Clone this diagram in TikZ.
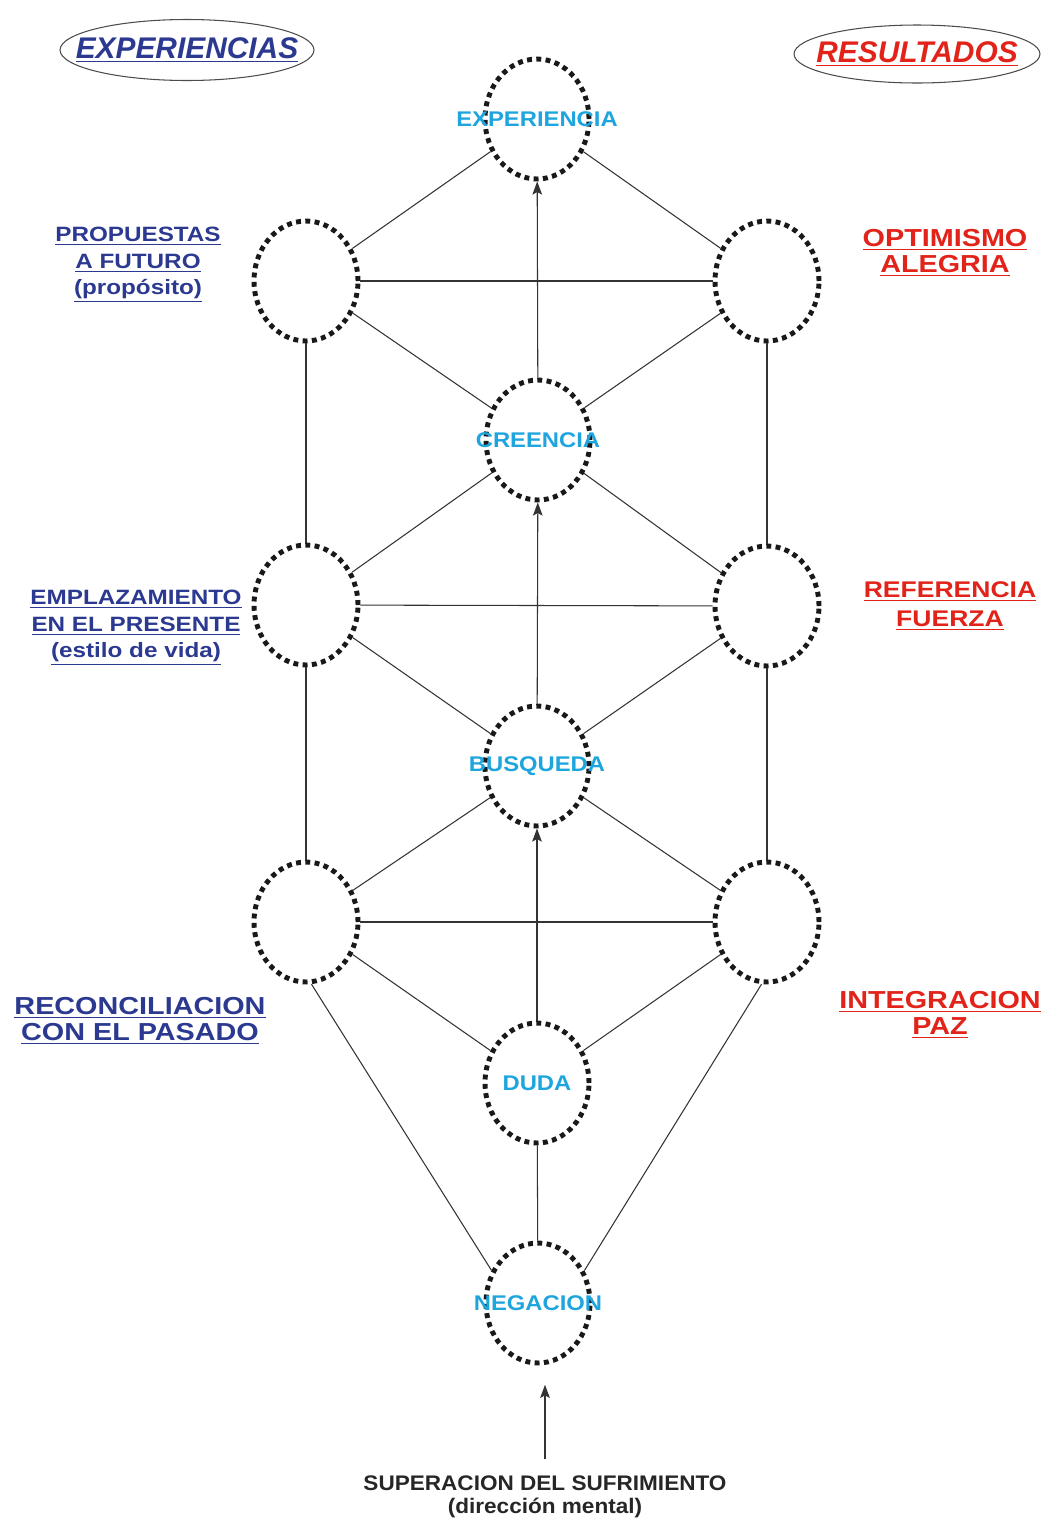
\documentclass[tikz,border=0pt]{standalone}
\usepackage{fontspec}
\setmainfont{Liberation Sans}[FakeStretch=1.07]
\newfontfamily\letraancha{Liberation Sans}[FakeStretch=1.17]
\newfontfamily\letramedia{Liberation Sans}[FakeStretch=1.12]
\newfontfamily\letranormal{Liberation Sans}
\usetikzlibrary{shapes.geometric,arrows.meta}
\definecolor{azul}{HTML}{2B3990}
\definecolor{rojo}{HTML}{E2231A}
\definecolor{celeste}{HTML}{1FA5DE}

\begin{document}
\begin{tikzpicture}[x=0.02cm, y=-0.02cm,
  circulo/.style={ellipse, draw=black!90, line width=2.8pt, dash pattern=on 2.8pt off 2.5pt,
    minimum width=2.08cm, minimum height=2.4cm, inner sep=0pt},
  nombre/.style={text=celeste, font=\letramedia\bfseries\fontsize{12.1}{14}\selectfont},
  cabecera/.style={ellipse, draw=black!70, line width=0.6pt, inner sep=0pt},
  titulo/.style={font=\letranormal\bfseries\itshape\fontsize{17}{18}\selectfont},
  chico/.style={align=center, font=\letraancha\bfseries\fontsize{11.8}{15}\selectfont},
  grande/.style={align=center, font=\letraancha\bfseries\fontsize{14}{14.7}\selectfont},
  linea/.style={draw=black!80, line width=0.6pt},
  flecha/.style={linea, -{Stealth[length=7.5pt, width=5.5pt, inset=1.5pt]}}]
\useasboundingbox (0,0) rectangle (1046,1522);
\node[cabecera, minimum width=5.08cm, minimum height=1.22cm,
  label={[titulo, text=azul]center:\underline{EXPERIENCIAS}}] (experiencias) at (187,50) {};
\node[cabecera, minimum width=4.92cm, minimum height=1.16cm,
  label={[titulo, text=rojo]center:\underline{RESULTADOS}}] (resultados) at (917,54) {};
\node[circulo, label={[nombre]center:EXPERIENCIA}] (experiencia) at (537,119) {};
\node[circulo] (proposito) at (306,281) {};
\node[circulo] (optimismo) at (767,281) {};
\node[circulo, label={[nombre]center:CREENCIA}] (creencia) at (538,440) {};
\node[circulo] (presente) at (306,605) {};
\node[circulo] (fuerza) at (767,606) {};
\node[circulo, label={[nombre]center:BUSQUEDA}] (busqueda) at (537,766) {};
\node[circulo] (pasado) at (306,922) {};
\node[circulo] (paz) at (767,922) {};
\node[circulo, label={[nombre]center:DUDA}] (duda) at (537,1083) {};
\node[circulo, label={[nombre]center:NEGACION}] (negacion) at (538,1303) {};
\node[chico, text=azul] (tproposito) at (138,265) {\underline{PROPUESTAS}\\\underline{A FUTURO}\\\underline{(propósito)}};
\node[chico, text=azul] (tpresente) at (136,628) {\underline{EMPLAZAMIENTO}\\\underline{EN EL PRESENTE}\\\underline{(estilo de vida)}};
\node[grande, text=azul] (tpasado) at (140,1021) {\underline{RECONCILIACION}\\\underline{CON EL PASADO}};
\node[grande, text=rojo] (toptimismo) at (945,253) {\underline{OPTIMISMO}\\\underline{ALEGRIA}};
\node[grande, text=rojo, font=\letraancha\bfseries\fontsize{12.9}{16.5}\selectfont] (tfuerza) at (950,606) {\underline{REFERENCIA}\\\underline{FUERZA}};
\node[grande, text=rojo] (tpaz) at (940,1015) {\underline{INTEGRACION}\\\underline{PAZ}};
\node[align=center, text=black!85, font=\bfseries\fontsize{12}{13}\selectfont] (superacion) at (545,1497) {SUPERACION DEL SUFRIMIENTO\\(dirección mental)};
\draw[linea] (experiencia) -- (proposito);
\draw[linea] (experiencia) -- (optimismo);
\draw[linea] (proposito) -- (optimismo);
\draw[linea] (proposito) -- (creencia);
\draw[linea] (optimismo) -- (creencia);
\draw[linea] (proposito) -- (presente);
\draw[linea] (optimismo) -- (fuerza);
\draw[linea] (creencia) -- (presente);
\draw[linea] (creencia) -- (fuerza);
\draw[linea] (presente) -- (fuerza);
\draw[linea] (presente) -- (busqueda);
\draw[linea] (fuerza) -- (busqueda);
\draw[linea] (presente) -- (pasado);
\draw[linea] (fuerza) -- (paz);
\draw[linea] (busqueda) -- (pasado);
\draw[linea] (busqueda) -- (paz);
\draw[linea] (pasado) -- (paz);
\draw[linea] (pasado) -- (duda);
\draw[linea] (paz) -- (duda);
\draw[linea] (pasado.-85) -- (negacion.145);
\draw[linea] (paz.-95) -- (negacion.35);
\draw[linea] (duda) -- (negacion);
\draw[flecha] (creencia) -- (experiencia);
\draw[flecha] (busqueda) -- (creencia);
\draw[flecha] (duda) -- (busqueda);
\draw[flecha, shorten <=6pt, shorten >=11pt] (superacion.north) -- (superacion.north |- negacion.south);
\end{tikzpicture}
\end{document}
